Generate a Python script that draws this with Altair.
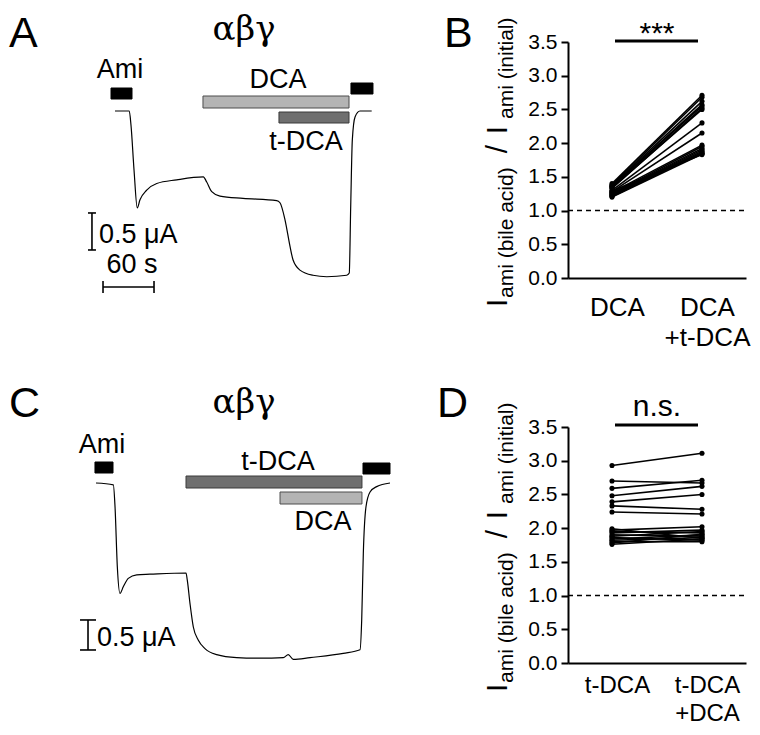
import altair as alt
import pandas as pd

FONT = "Liberation Sans"
SERIF = "DejaVu Serif"
M = 8            # page margin
W, H = 744, 719  # whole drawing area

# ---------------- data ----------------
# Panel A: current trace (time in s, current in µA relative to baseline)
a_time = [0, 16.8, 18.8, 22.4, 26.2, 29.4, 37.3, 49.1, 72.6, 103.9, 107.9, 113.8, 123.5,
          150.6, 190.2, 194.1, 200.0, 205.9, 209.4, 217.6, 232.9, 249.1, 272.6, 275.6,
          277.3, 279.2, 282.4, 288.2, 302.0]
a_current = [0, 0, -0.19, -0.80, -1.31, -1.20, -1.07, -0.98, -0.93, -0.89, -0.96, -1.09, -1.15,
             -1.18, -1.21, -1.24, -1.47, -1.83, -2.01, -2.15, -2.22, -2.24, -2.22, -2.19,
             -1.29, -0.39, -0.08, 0, 0]
a_bar_names = ["Ami", "DCA", "t-DCA", "Ami end"]
a_bar_start = [-4.7, 103.5, 192.9, 277.6]
a_bar_end = [20.0, 275.3, 275.3, 303.5]

# Panel C: current trace
c_time = [0, 20.4, 22.4, 25.1, 28.2, 32.1, 38.0, 47.9, 63.5, 105.9, 107.4, 110.6, 114.5,
          120.4, 128.2, 142.0, 165.5, 192.9, 220.4, 226.2, 232.1, 251.8, 290.9, 310.6,
          312.6, 314.5, 317.6, 322.4, 330.2, 345.9]
c_current = [0, -0.03, -0.40, -1.40, -1.84, -1.73, -1.59, -1.53, -1.52, -1.50, -1.62, -2.01,
             -2.40, -2.62, -2.76, -2.86, -2.91, -2.92, -2.91, -2.86, -2.94, -2.91, -2.84,
             -2.78, -2.28, -1.17, -0.40, -0.15, -0.06, 0]
c_bar_names = ["Ami", "t-DCA", "DCA", "Ami end"]
c_bar_start = [-1.2, 105.9, 216.5, 314.1]
c_bar_end = [20.0, 312.9, 312.9, 345.9]

scale_current = 0.5  # µA
scale_time = 60      # s

# Panel B: paired ratios
b_conditions = ["DCA", "DCA +t-DCA"]
b_dca = [1.40, 1.38, 1.37, 1.36, 1.35, 1.33, 1.34, 1.30, 1.28, 1.27, 1.25, 1.24, 1.23,
         1.22, 1.21, 1.26, 1.20, 1.29]
b_dca_tdca = [2.71, 2.68, 2.62, 2.57, 2.55, 2.52, 2.50, 2.30, 2.15, 1.97, 1.95, 1.92, 1.90,
              1.88, 1.86, 1.85, 1.84, 1.83]

# Panel D: paired ratios
d_conditions = ["t-DCA", "t-DCA +DCA"]
d_tdca = [2.93, 2.70, 2.59, 2.48, 2.39, 2.33, 2.24, 1.99, 1.97, 1.95, 1.93, 1.90, 1.88,
          1.86, 1.84, 1.82, 1.80, 1.78, 1.76]
d_tdca_dca = [3.11, 2.67, 2.71, 2.62, 2.50, 2.28, 2.21, 1.85, 2.02, 1.93, 1.97, 1.88, 1.95,
              1.82, 1.90, 1.86, 1.80, 1.91, 1.84]

y_ticks = [0.0, 0.5, 1.0, 1.5, 2.0, 2.5, 3.0, 3.5]

PX_PER_S = 0.85
PX_PER_RATIO = 236 / 3.5
TXT = 27


def P(v):
    return v - M


def text(t, x, y, size, align="center", font=FONT, angle=None):
    kw = dict(align=align, baseline="alphabetic", fontSize=size, font=font, color="black")
    if angle is not None:
        kw["angle"] = angle
    return alt.Chart(pd.DataFrame({"label": [t]})).mark_text(**kw).encode(
        text="label:N", x=alt.value(P(x)), y=alt.value(P(y)))


def trace_panel(time, current, names, starts, ends, bar_px, bar_style, x0, y0,
                px_per_ua, vbar, hbar=None):
    xs = alt.Scale(domain=[0, 300], range=[P(x0), P(x0) + 300 * PX_PER_S], nice=False, zero=False)
    ys = alt.Scale(domain=[-3, 0], range=[P(y0) + 3 * px_per_ua, P(y0)], nice=False, zero=False)

    def X(f):
        return alt.X(f, type="quantitative", scale=xs, axis=None)

    def Y(f):
        return alt.Y(f, type="quantitative", scale=ys, axis=None)

    layers = []
    tr = pd.DataFrame({"t": time, "i": current})
    layers.append(alt.Chart(tr).mark_line(color="black", strokeWidth=1.2, interpolate="monotone")
                  .encode(x=X("t"), y=Y("i"), order="t:Q"))
    bars = pd.DataFrame({"bar": names, "start": starts, "end": ends})
    for k in range(len(names)):
        top, bot = bar_px[k]
        fill, stroke = bar_style[k]
        layers.append(alt.Chart(bars.iloc[[k]]).mark_rect(fill=fill, stroke=stroke, strokeWidth=1)
                      .encode(x=X("start"), x2="end", y=alt.value(P(top)), y2=alt.value(P(bot))))
    # scale bars
    tv, itop, tcap = vbar
    segs = [(tv, tv, itop, itop - scale_current),
            (tv - tcap, tv + tcap, itop, itop),
            (tv - tcap, tv + tcap, itop - scale_current, itop - scale_current)]
    if hbar is not None:
        th, ih, icap = hbar
        segs += [(th, th + scale_time, ih, ih),
                 (th, th, ih - icap, ih + icap),
                 (th + scale_time, th + scale_time, ih - icap, ih + icap)]
    sb = pd.DataFrame(segs, columns=["x", "x2", "y", "y2"])
    layers.append(alt.Chart(sb).mark_rule(color="black", strokeWidth=1.6)
                  .encode(x=X("x"), x2="x2", y=Y("y"), y2="y2"))
    return alt.layer(*layers)


def pair_panel(conds, v1, v2, y0, label_size, label_pad, line_h):
    n = len(v1)
    df = pd.DataFrame({"cell": list(range(n)) * 2,
                       "cond": [conds[0]] * n + [conds[1]] * n,
                       "ratio": v1 + v2})
    xs = alt.Scale(domain=conds, range=[P(568), P(746)], padding=0.489)
    ys = alt.Scale(domain=[0, 3.5], range=[P(y0), P(y0) - 3.5 * PX_PER_RATIO], nice=False, zero=False)
    xaxis = alt.Axis(orient="bottom", offset=P(y0) - H, title=None, ticks=False, tickSize=0,
                     labelAngle=0, labelFont=FONT, labelFontSize=label_size, labelColor="black",
                     labelExpr="split(datum.label, ' ')", labelLineHeight=line_h,
                     labelPadding=label_pad, labelOffset=5, domainWidth=2, domainColor="black",
                     grid=False)
    yaxis = alt.Axis(orient="left", offset=-P(568), title=None, values=y_ticks, format=".1f",
                     labelFont=FONT, labelFontSize=21, labelColor="black", labelPadding=4,
                     tickSize=7, tickWidth=2, tickColor="black", domainWidth=2,
                     domainColor="black", grid=False)
    enc = dict(x=alt.X("cond:N", sort=conds, scale=xs, axis=xaxis),
               y=alt.Y("ratio:Q", scale=ys, axis=yaxis))
    lines = alt.Chart(df).mark_line(color="black", strokeWidth=1.6).encode(detail="cell:N", **enc)
    pts = alt.Chart(df).mark_circle(color="black", size=26, opacity=1).encode(**enc)
    dash = alt.Chart(pd.DataFrame({"ratio": [1.0]})).mark_rule(
        color="black", strokeDash=[5, 4], strokeWidth=1.5).encode(
        y=alt.Y("ratio:Q", scale=ys, axis=yaxis), x=alt.value(P(568)), x2=alt.value(P(747)))
    return alt.layer(lines, pts, dash)


def y_title(dy):
    return [
        text("I", 507, 307 + dy, 30, align="left", angle=270),
        text("ami (bile acid)", 513, 298 + dy, 21, align="left", angle=270),
        text("/", 507, 149 + dy, 30, align="center", angle=270),
        text("I", 507, 130 + dy, 30, align="center", angle=270),
        text("ami (initial)", 513, 119 + dy, 21, align="left", angle=270),
    ]


BLACK = ("#000000", "#000000")
LIGHT = ("#b4b4b4", "#4d4d4d")
DARK = ("#6f6f6f", "#3a3a3a")

panelA = trace_panel(a_time, a_current, a_bar_names, a_bar_start, a_bar_end,
                     [(88, 99), (96, 108), (112, 123), (83, 94)],
                     [BLACK, LIGHT, DARK, BLACK],
                     x0=115, y0=111, px_per_ua=74,
                     vbar=(-27.1, -1.378, 4.7), hbar=(-14.1, -2.378, 0.08))
panelC = trace_panel(c_time, c_current, c_bar_names, c_bar_start, c_bar_end,
                     [(462, 473), (476, 488), (492, 504), (463, 474)],
                     [BLACK, DARK, LIGHT, BLACK],
                     x0=96, y0=483, px_per_ua=60,
                     vbar=(-9.4, -2.283, 9.4))
panelB = pair_panel(b_conditions, b_dca, b_dca_tdca, 278, 26, 16, 30)
panelD = pair_panel(d_conditions, d_tdca, d_tdca_dca, 663, 24, 10, 28)

sig = pd.DataFrame({"s": [0]})
annotations = [
    text("A", 9, 47, 43, align="left"),
    text("B", 444, 47, 43, align="left"),
    text("C", 9, 417, 43, align="left"),
    text("D", 437, 417, 43, align="left"),
    text("αβγ", 244, 40, 34, font=SERIF),
    text("αβγ", 244, 413, 34, font=SERIF),
    text("Ami", 120, 78, TXT),
    text("DCA", 278, 88, TXT),
    text("t-DCA", 306, 150, TXT),
    text("0.5 μA", 99, 243, TXT, align="left"),
    text("60 s", 132, 273, TXT),
    text("Ami", 102, 453, TXT),
    text("t-DCA", 278, 470, TXT),
    text("DCA", 323, 530, TXT),
    text("0.5 μA", 97, 646, TXT, align="left"),
    text("***", 657, 43, 30),
    text("n.s.", 657, 416, 30),
    alt.Chart(sig).mark_rule(color="black", strokeWidth=3).encode(
        x=alt.value(P(615)), x2=alt.value(P(698)), y=alt.value(P(41))),
    alt.Chart(sig).mark_rule(color="black", strokeWidth=3).encode(
        x=alt.value(P(615)), x2=alt.value(P(698)), y=alt.value(P(425))),
] + y_title(0) + y_title(385)

chart = alt.layer(panelA, panelB, panelC, panelD, *annotations).resolve_scale(
    x="independent", y="independent"
).properties(
    width=W, height=H, padding=0, autosize=alt.AutoSizeParams(type="none"),
    background="white"
).configure_view(stroke=None)

chart.save("out.html", embed_options={"renderer": "svg", "actions": False})
